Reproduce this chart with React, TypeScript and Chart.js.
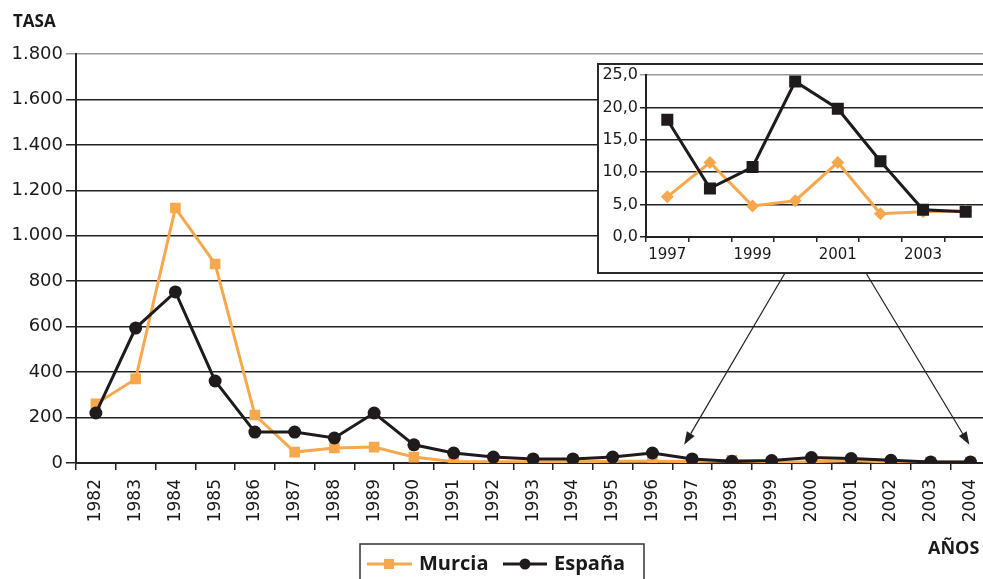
import React, { useEffect, useRef } from 'react';
import { Chart, registerables } from 'chart.js';
Chart.register(...registerables);

const years = ['1982','1983','1984','1985','1986','1987','1988','1989','1990','1991','1992','1993','1994','1995','1996','1997','1998','1999','2000','2001','2002','2003','2004'];
const murcia = [260, 370, 1122, 876, 211, 48, 66, 70, 26, 6, 5, 5, 5, 8, 8, 6.2, 11.5, 4.8, 5.6, 11.5, 3.6, 3.9, 4.0];
const espana = [220, 594, 753, 361, 136, 136, 110, 220, 80, 44, 26, 18, 18, 26, 44, 18.1, 7.5, 10.8, 24.0, 19.8, 11.7, 4.2, 3.9];
const mainYMax = 1800;
const mainYStep = 200;

const insetYears = ['1997','1998','1999','2000','2001','2002','2003','2004'];
const insetMurcia = [6.2, 11.5, 4.8, 5.6, 11.5, 3.6, 3.9, 4.0];
const insetEspana = [18.1, 7.5, 10.8, 24.0, 19.8, 11.7, 4.2, 3.9];
const insetYMax = 25;
const insetYStep = 5;

const ORANGE = '#F8A84C';
const BLACK = '#1f1b1c';
const AXIS = '#222222';
const TICKFONT = 'DejaVu Sans';
const BOLDFONT = 'Open Sans';

const INSET = { left: 597, top: 63, width: 400, height: 211 };

const fmtThousands = (v: number) => {
  const s = String(Math.round(v));
  return s.replace(/\B(?=(\d{3})+(?!\d))/g, '.');
};
const fmtDec = (v: number) => v.toFixed(1).replace('.', ',');

function arrow(ctx: CanvasRenderingContext2D, x1: number, y1: number, x2: number, y2: number) {
  ctx.save();
  ctx.strokeStyle = AXIS;
  ctx.fillStyle = AXIS;
  ctx.lineWidth = 1.2;
  const ang = Math.atan2(y2 - y1, x2 - x1);
  const L = 13, W = 4.5;
  const bx = x2 - L * Math.cos(ang), by = y2 - L * Math.sin(ang);
  ctx.beginPath();
  ctx.moveTo(x1, y1);
  ctx.lineTo(bx, by);
  ctx.stroke();
  ctx.beginPath();
  ctx.moveTo(x2, y2);
  ctx.lineTo(bx + W * Math.sin(ang), by - W * Math.cos(ang));
  ctx.lineTo(bx - W * Math.sin(ang), by + W * Math.cos(ang));
  ctx.closePath();
  ctx.fill();
  ctx.restore();
}

const mainDecor = {
  id: 'mainDecor',
  afterDraw(chart: any) {
    const ctx: CanvasRenderingContext2D = chart.ctx;
    const xs = chart.scales.x, ys = chart.scales.y;
    ctx.save();
    ctx.fillStyle = '#1a1a1a';
    ctx.font = `bold 17px "${BOLDFONT}"`;
    ctx.textBaseline = 'middle';
    ctx.textAlign = 'left';
    ctx.fillText('TASA', 13, 22);
    ctx.font = `bold 18px "${BOLDFONT}"`;
    ctx.fillText('AÑOS', 928, 549);

    // arrows from inset
    const bottom = INSET.top + INSET.height - 1;
    arrow(ctx, 785, bottom, xs.getPixelForValue(15) - 8, ys.getPixelForValue(80));
    arrow(ctx, 866, bottom, xs.getPixelForValue(22) - 1, ys.getPixelForValue(80));

    // legend
    ctx.strokeStyle = '#333';
    ctx.lineWidth = 1.5;
    ctx.strokeRect(360, 544, 284, 50);
    const ly = 564;
    ctx.lineWidth = 3;
    ctx.strokeStyle = ORANGE;
    ctx.beginPath(); ctx.moveTo(367, ly); ctx.lineTo(412, ly); ctx.stroke();
    ctx.fillStyle = ORANGE;
    ctx.fillRect(389 - 5, ly - 5, 10, 10);
    ctx.strokeStyle = BLACK;
    ctx.beginPath(); ctx.moveTo(503, ly); ctx.lineTo(547, ly); ctx.stroke();
    ctx.fillStyle = BLACK;
    ctx.beginPath(); ctx.arc(525, ly, 5.5, 0, Math.PI * 2); ctx.fill();
    ctx.fillStyle = '#1a1a1a';
    ctx.font = `bold 20px "${BOLDFONT}"`;
    ctx.textBaseline = 'middle';
    ctx.fillText('Murcia', 419, ly);
    ctx.fillText('España', 554, ly);
    ctx.restore();
  },
};

const insetDecor = {
  id: 'insetDecor',
  beforeDraw(chart: any) {
    const ctx: CanvasRenderingContext2D = chart.ctx;
    ctx.save();
    ctx.fillStyle = '#ffffff';
    ctx.fillRect(0, 0, chart.width, chart.height);
    ctx.restore();
  },
  afterDraw(chart: any) {
    const ctx: CanvasRenderingContext2D = chart.ctx;
    ctx.save();
    ctx.strokeStyle = '#2a2a2a';
    ctx.lineWidth = 2;
    ctx.strokeRect(1, 1, chart.width - 2, chart.height - 2);
    ctx.restore();
  },
};

export default function App() {
  const mainRef = useRef<HTMLCanvasElement>(null);
  const insetRef = useRef<HTMLCanvasElement>(null);

  useEffect(() => {
    const main = new Chart(mainRef.current!, {
      type: 'line',
      data: {
        labels: years,
        datasets: [
          {
            label: 'Murcia', data: murcia, order: 2,
            borderColor: ORANGE, backgroundColor: ORANGE, borderWidth: 3,
            pointStyle: 'rect', pointRadius: 7.5, pointBackgroundColor: ORANGE, pointBorderColor: ORANGE, pointBorderWidth: 0,
            tension: 0,
          },
          {
            label: 'España', data: espana, order: 1,
            borderColor: BLACK, backgroundColor: BLACK, borderWidth: 3,
            pointStyle: 'circle', pointRadius: 6.5, pointBackgroundColor: BLACK, pointBorderColor: BLACK, pointBorderWidth: 0,
            tension: 0,
          },
        ],
      },
      options: {
        animation: false,
        responsive: false,
        maintainAspectRatio: false,
        layout: { padding: { top: 54, right: 4, left: 0, bottom: 0 } },
        plugins: { legend: { display: false }, tooltip: { enabled: false }, title: { display: false } },
        scales: {
          x: {
            type: 'category',
            offset: true,
            grid: { display: true, drawOnChartArea: false, drawTicks: true, tickLength: 7, offset: true, color: AXIS, lineWidth: 1.5 },
            border: { display: true, color: AXIS, width: 2 },
            ticks: { autoSkip: false, maxRotation: 90, minRotation: 90, padding: 9, color: '#1a1a1a', font: { family: TICKFONT, size: 17 } },
            afterFit: (s: any) => { s.height = 116; },
          },
          y: {
            min: 0, max: mainYMax,
            ticks: { stepSize: mainYStep, callback: (v: any) => fmtThousands(Number(v)), padding: 3, color: '#1a1a1a', font: { family: TICKFONT, size: 18 } },
            grid: { color: (c: any) => (c.tick && c.tick.value === mainYMax ? '#9a9a9a' : AXIS), lineWidth: 1.5, tickLength: 10 },
            border: { display: true, color: AXIS, width: 2 },
            afterFit: (s: any) => { s.width = 76; },
          },
        },
      },
      plugins: [mainDecor],
    });

    const inset = new Chart(insetRef.current!, {
      type: 'line',
      data: {
        labels: insetYears,
        datasets: [
          {
            label: 'Murcia', data: insetMurcia, order: 2,
            borderColor: ORANGE, backgroundColor: ORANGE, borderWidth: 3,
            pointStyle: 'rectRot', pointRadius: 6.5, pointBackgroundColor: ORANGE, pointBorderColor: ORANGE, pointBorderWidth: 0,
            tension: 0,
          },
          {
            label: 'España', data: insetEspana, order: 1,
            borderColor: BLACK, backgroundColor: BLACK, borderWidth: 3,
            pointStyle: 'rect', pointRadius: 8.5, pointBackgroundColor: BLACK, pointBorderColor: BLACK, pointBorderWidth: 0,
            tension: 0,
          },
        ],
      },
      options: {
        animation: false,
        responsive: false,
        maintainAspectRatio: false,
        layout: { padding: { top: 12, right: 10, left: 0, bottom: 0 } },
        plugins: { legend: { display: false }, tooltip: { enabled: false }, title: { display: false } },
        scales: {
          x: {
            type: 'category',
            offset: true,
            grid: { display: true, drawOnChartArea: false, drawTicks: true, tickLength: 5, offset: true, color: AXIS, lineWidth: 1.5 },
            border: { display: true, color: AXIS, width: 2 },
            ticks: {
              autoSkip: false, maxRotation: 0, minRotation: 0, padding: 4, color: '#1a1a1a',
              font: { family: TICKFONT, size: 15 },
              callback: (_v: any, i: number) => (i % 2 === 0 ? insetYears[i] : ''),
            },
            afterFit: (s: any) => { s.height = 37; },
          },
          y: {
            min: 0, max: insetYMax,
            ticks: { stepSize: insetYStep, callback: (v: any) => fmtDec(Number(v)), padding: 2, color: '#1a1a1a', font: { family: TICKFONT, size: 16 } },
            grid: { color: (c: any) => (c.tick && c.tick.value === insetYMax ? '#9a9a9a' : AXIS), lineWidth: 1.5, tickLength: 6 },
            border: { display: true, color: AXIS, width: 2 },
            afterFit: (s: any) => { s.width = 49; },
          },
        },
      },
      plugins: [insetDecor],
    });

    return () => { main.destroy(); inset.destroy(); };
  }, []);

  return (
    <div style={{ position: 'fixed', left: 0, top: 0, width: 983, height: 579, overflow: 'hidden', background: '#fff' }}>
      <canvas ref={mainRef} width={1000} height={579} style={{ position: 'absolute', left: 0, top: 0, width: 1000, height: 579 }} />
      <canvas ref={insetRef} width={INSET.width} height={INSET.height} style={{ position: 'absolute', left: INSET.left, top: INSET.top, width: INSET.width, height: INSET.height }} />
    </div>
  );
}
